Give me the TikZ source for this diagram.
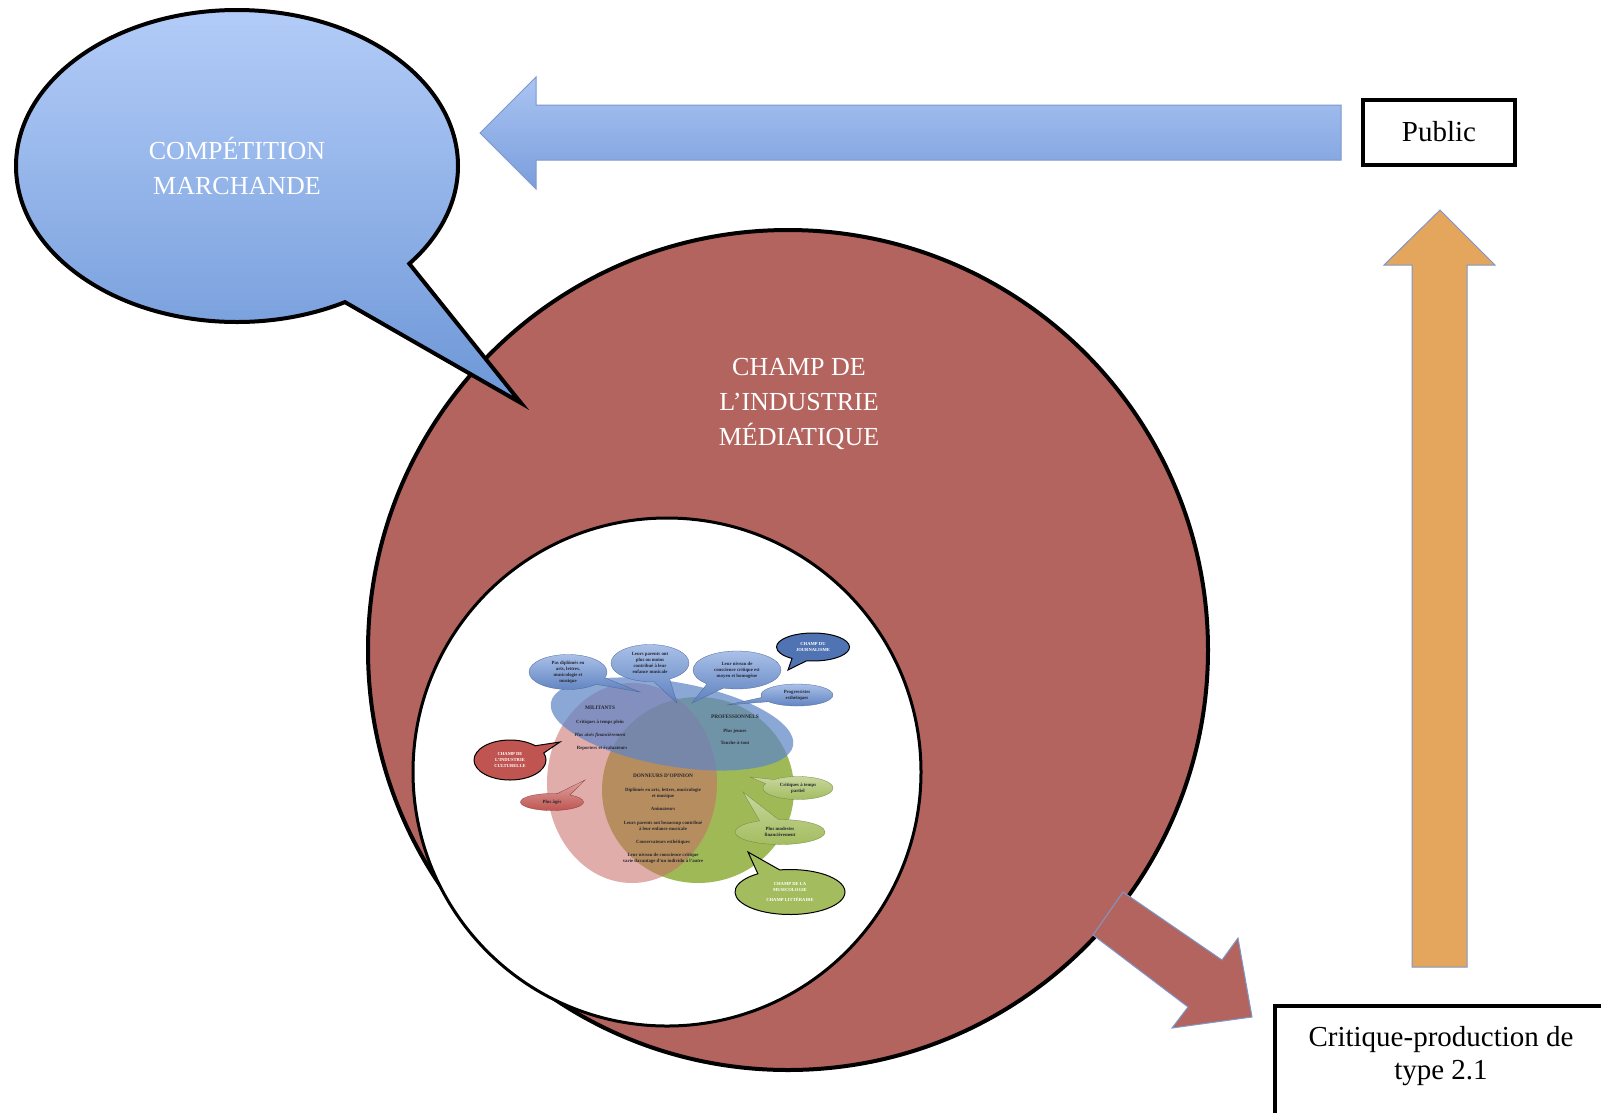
\documentclass[tikz,border=0pt]{standalone}
\usepackage{fontspec}
\setmainfont{Liberation Serif}
\usetikzlibrary{shapes.geometric,shapes.callouts,positioning}
\definecolor{champ}{HTML}{B4645E}
\definecolor{bubtop}{HTML}{B3CCF8}
\definecolor{bubbot}{HTML}{6D97D7}
\definecolor{arrtop}{HTML}{AAC4F3}
\definecolor{arrbot}{HTML}{7A9EDC}
\definecolor{arrline}{HTML}{7D97C9}
\definecolor{orangearr}{HTML}{E4A55C}
\definecolor{smalltop}{HTML}{A9C0E8}
\definecolor{smallbot}{HTML}{5E81BF}
\definecolor{journ}{HTML}{4F73B3}
\definecolor{venred}{HTML}{C96A66}
\definecolor{venblue}{HTML}{5F86C7}
\definecolor{vengreen}{HTML}{9FB957}
\definecolor{redbub}{HTML}{BF5450}
\definecolor{greenbub}{HTML}{A3BC5E}
\definecolor{inktxt}{HTML}{26262E}
\tikzset{
	bigtxt/.style={text=white, align=center, font=\fontsize{26}{35}\selectfont},
	boxtxt/.style={align=center, font=\fontsize{29}{33}\selectfont},
	frame/.style={draw, line width=4, inner sep=0, fill=white},
	tinytxt/.style={text=inktxt, align=center, inner sep=0, font=\fontsize{4.8}{6}\selectfont\bfseries},
	tinyhead/.style={tinytxt, font=\fontsize{5.3}{6}\selectfont\bfseries},
	smallbub/.style={ellipse callout, callout pointer arc=25, top color=smalltop, bottom color=smallbot, draw=smallbot!80!black, line width=.3, inner sep=0, tinytxt},
	champbub/.style={ellipse callout, callout pointer arc=25, draw=black, line width=1, inner sep=0, align=center, text=white, font=\fontsize{4.6}{5.6}\selectfont\bfseries},
}
\begin{document}
\begin{tikzpicture}[x=1pt, y=1pt]
	\useasboundingbox (0,0) rectangle (1601,-1112);
	\node (media)[circle, draw, line width=4, fill=champ, minimum size=840, inner sep=0] at (788,-650) {};
	\node (inner)[circle, draw, line width=3, fill=white, minimum size=508, inner sep=0] at (667,-772) {};

	\node (green)[ellipse, fill=vengreen, minimum width=192, minimum height=186] at (698,-790) {};
	\node (red)[ellipse, fill=venred, fill opacity=.55, minimum width=170, minimum height=200] at (632,-783) {};
	\node (blue)[ellipse, fill=venblue, fill opacity=.72, minimum width=246, minimum height=84, rotate=-10] at (672,-724) {};

	\node (m0)[tinyhead] at (600,-708) {MILITANTS};
	\node (m1)[tinytxt] at (600,-722) {Critiques à temps plein};
	\node (m2)[tinytxt] at (600,-735) {\itshape Plus aisés financièrement};
	\node (m3)[tinytxt] at (602,-748) {Reporters et évaluateurs};
	\node (p0)[tinyhead] at (735,-717) {PROFESSIONNELS};
	\node (p1)[tinytxt] at (735,-731) {Plus jeunes};
	\node (p2)[tinytxt] at (735,-743) {Touche-à-tout};
	\node (d0)[tinyhead] at (663,-776) {DONNEURS D’OPINION};
	\node (d1)[tinytxt] at (663,-793.5) {Diplômés en arts, lettres, musicologie\\et musique};
	\node (d2)[tinytxt] at (663,-809) {Animateurs};
	\node (d3)[tinytxt] at (663,-825.5) {Leurs parents ont beaucoup contribué\\à leur enfance musicale};
	\node (d4)[tinytxt] at (663,-842) {Conservateurs esthétiques};
	\node (d5)[tinytxt] at (663,-858.5) {Leur niveau de conscience critique\\varie davantage d’un individu à l’autre};

	\node (b1)[smallbub, minimum width=78, minimum height=35, callout absolute pointer={(640,-692)}] at (568,-672) {Pas diplômés en\\arts, lettres,\\musicologie et\\musique};
	\node (b2)[smallbub, minimum width=78, minimum height=37, callout absolute pointer={(677,-703)}] at (650,-663) {Leurs parents ont\\plus ou moins\\contribué à leur\\enfance musicale};
	\node (b3)[smallbub, minimum width=88, minimum height=38, callout absolute pointer={(692,-703)}] at (737,-670) {Leur niveau de\\conscience critique est\\moyen et homogène};
	\node (b4)[smallbub, minimum width=72, minimum height=22, callout absolute pointer={(727,-705)}] at (797,-695) {Progressistes\\esthétiques};
	\node (b5)[smallbub, top color=venred!60!white, bottom color=redbub, draw=redbub!70!black, minimum width=63, minimum height=17, callout absolute pointer={(585,-780)}] at (552,-802) {Plus âgés};
	\node (b6)[smallbub, top color=greenbub!60!white, bottom color=greenbub, draw=greenbub!70!black, minimum width=70, minimum height=23, callout absolute pointer={(750,-777)}] at (798,-788) {Critiques à temps\\partiel};
	\node (b7)[smallbub, top color=greenbub!60!white, bottom color=greenbub, draw=greenbub!70!black, minimum width=90, minimum height=25, callout absolute pointer={(743,-792)}] at (780,-832) {Plus modestes\\financièrement};
	\node (journ)[champbub, fill=journ, minimum width=73, minimum height=28, callout absolute pointer={(788,-670)}] at (813,-647) {CHAMP DU\\JOURNALISME};
	\node (cult)[champbub, fill=redbub, minimum width=72, minimum height=40, callout absolute pointer={(560,-742)}] at (510,-760) {CHAMP DE\\L’INDUSTRIE\\CULTURELLE};
	\node (musico)[champbub, fill=greenbub, minimum width=110, minimum height=45, callout absolute pointer={(748,-852)}] at (790,-892) {CHAMP DE LA\\MUSICOLOGIE\\[5pt]CHAMP LITTÉRAIRE};

	\node (mediatxt)[bigtxt] at (799,-404) {CHAMP DE\\L’INDUSTRIE\\MÉDIATIQUE};

	\node (marche)[ellipse callout, callout pointer arc=22, callout absolute pointer={(521,-403)}, draw, line width=4, top color=bubtop, bottom color=bubbot, minimum width=442, minimum height=312, inner sep=0, bigtxt] at (237,-166) {COMPÉTITION\\MARCHANDE};

	\draw[top color=arrtop, bottom color=arrbot, draw=arrline, line width=1] (1341,-105) -- (536,-105) -- (536,-77) -- (480,-133) -- (536,-189) -- (536,-160) -- (1341,-160) -- cycle;
	\node (public)[frame, minimum width=152, minimum height=65, boxtxt] at (1439,-132.5) {\raisebox{3pt}{Public}};

	\draw[fill=orangearr, draw=arrline, line width=1] (1412,-967) -- (1412,-265) -- (1384,-265) -- (1440,-210) -- (1495,-265) -- (1467,-265) -- (1467,-967) -- cycle;

	\draw[fill=champ, draw=arrline, line width=1] (1123,-892) -- (1222,-960) -- (1238,-938) -- (1252,-1017) -- (1172,-1028) -- (1188,-1007) -- (1093,-935) -- cycle;

	\node (critique)[frame, anchor=north west, minimum width=332, minimum height=150] at (1273,-1004) {};
	\node (critiquetxt)[boxtxt, below=19 of critique.north] {Critique-production de\\type 2.1};
\end{tikzpicture}
\end{document}
